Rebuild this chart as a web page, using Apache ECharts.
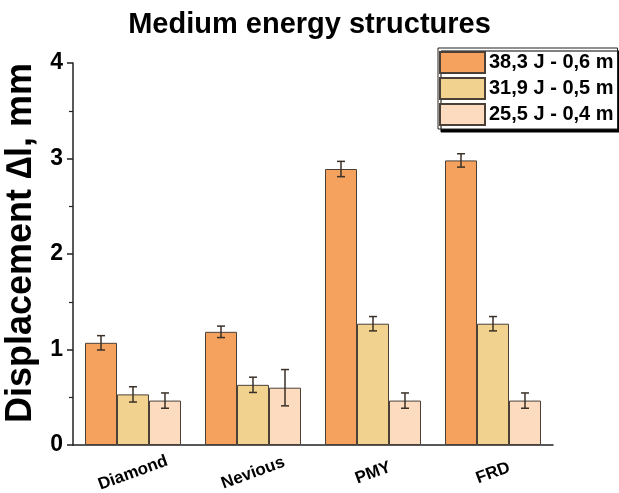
<!DOCTYPE html>
<html>
<head>
<meta charset="utf-8">
<script src="https://cdn.jsdelivr.net/npm/echarts@6/dist/echarts.min.js"></script>
<style>
html,body{margin:0;padding:0;background:#fff;}
#chart{width:619px;height:493px;}
</style>
</head>
<body>
<div id="chart"></div>
<script>
const categories = ['Diamond', 'Nevious', 'PMY', 'FRD'];
const seriesNames = ['38,3 J - 0,6 m', '31,9 J - 0,5 m', '25,5 J - 0,4 m'];
const values38 = [1.07, 1.185, 2.89, 2.98];
const errors38 = [0.075, 0.06, 0.08, 0.07];
const values31 = [0.53, 0.63, 1.27, 1.27];
const errors31 = [0.08, 0.08, 0.075, 0.075];
const values25 = [0.465, 0.60, 0.465, 0.465];
const errors25 = [0.08, 0.19, 0.08, 0.08];
const yTicks = [0, 1, 2, 3, 4];

const colors = ['#F4A25E', '#F2D28F', '#FDDBBF'];
const allValues = [values38, values31, values25];
const allErrors = [errors38, errors31, errors25];
const FONT = 'Liberation Sans, Arial, sans-serif';

const chart = echarts.init(document.getElementById('chart'));

const barSeries = allValues.map((vals, i) => ({
  name: seriesNames[i],
  type: 'bar',
  data: vals,
  barGap: '0%',
  barCategoryGap: '20%',
  itemStyle: { color: colors[i], borderColor: '#4a4038', borderWidth: 1 },
  z: 2
}));

const errSeries = allValues.map((vals, i) => ({
  type: 'custom',
  name: 'err' + i,
  data: vals.map((v, j) => [j, v - allErrors[i][j], v + allErrors[i][j]]),
  z: 5,
  silent: true,
  renderItem: function (params, api) {
    const catIdx = api.value(0);
    const lo = api.coord([catIdx, api.value(1)]);
    const hi = api.coord([catIdx, api.value(2)]);
    const band = api.size([1, 0])[0];
    const bw = band * 0.8 / 3;
    const x = lo[0] + (i - 1) * bw;
    const cap = 4;
    const style = { stroke: '#3a3128', lineWidth: 1.5 };
    return {
      type: 'group',
      children: [
        { type: 'line', shape: { x1: x, y1: lo[1], x2: x, y2: hi[1] }, style: style },
        { type: 'line', shape: { x1: x - cap, y1: lo[1], x2: x + cap, y2: lo[1] }, style: style },
        { type: 'line', shape: { x1: x - cap, y1: hi[1], x2: x + cap, y2: hi[1] }, style: style }
      ]
    };
  }
}));

chart.setOption({
  animation: false,
  backgroundColor: '#fff',
  title: {
    text: 'Medium energy structures',
    left: 'center',
    top: 5,
    textStyle: { fontFamily: FONT, fontWeight: 'bold', fontSize: 29, color: '#000' }
  },
  legend: {
    data: seriesNames,
    orient: 'vertical',
    left: 438,
    top: 48,
    padding: [3, 4, 3, 1],
    icon: 'rect',
    itemWidth: 45,
    itemHeight: 21,
    itemGap: 3,
    backgroundColor: '#fff',
    borderColor: '#222',
    borderWidth: 1,
    shadowColor: '#000',
    shadowBlur: 0,
    shadowOffsetX: 3,
    shadowOffsetY: 3,
    textStyle: { fontFamily: FONT, fontWeight: 'bold', fontSize: 20, color: '#000', padding: [0, 0, 0, -1] }
  },
  grid: { left: 73, right: 66, top: 63, bottom: 48, containLabel: false, outerBoundsMode: 'none' },
  xAxis: {
    type: 'category',
    data: categories,
    axisLine: { lineStyle: { color: '#222', width: 1.5 } },
    axisTick: { alignWithLabel: true, length: 6, lineStyle: { color: '#222', width: 1.5 } },
    axisLabel: {
      rotate: 20,
      align: 'center',
      verticalAlign: 'top',
      margin: 19,
      fontFamily: FONT,
      fontWeight: 'bold',
      fontSize: 17,
      color: '#000',
      padding: [0, 6, 0, 0]
    }
  },
  yAxis: {
    type: 'value',
    min: yTicks[0],
    max: yTicks[yTicks.length - 1],
    interval: 1,
    name: 'Displacement \u2206l, mm',
    nameLocation: 'middle',
    nameGap: 31,
    nameTextStyle: { fontFamily: FONT, fontWeight: 'bold', fontSize: 36, color: '#000', padding: [0, 0, 0, 22] },
    axisLine: { show: true, lineStyle: { color: '#222', width: 1.5 } },
    axisTick: { show: true, length: 6, lineStyle: { color: '#222', width: 1.5 } },
    minorTick: { show: true, splitNumber: 2, length: 4, lineStyle: { color: '#222', width: 1.2 } },
    splitLine: { show: false },
    axisLabel: { margin: 10, fontFamily: FONT, fontWeight: 'bold', fontSize: 23, color: '#000' }
  },
  series: barSeries.concat(errSeries)
});
</script>
</body>
</html>
